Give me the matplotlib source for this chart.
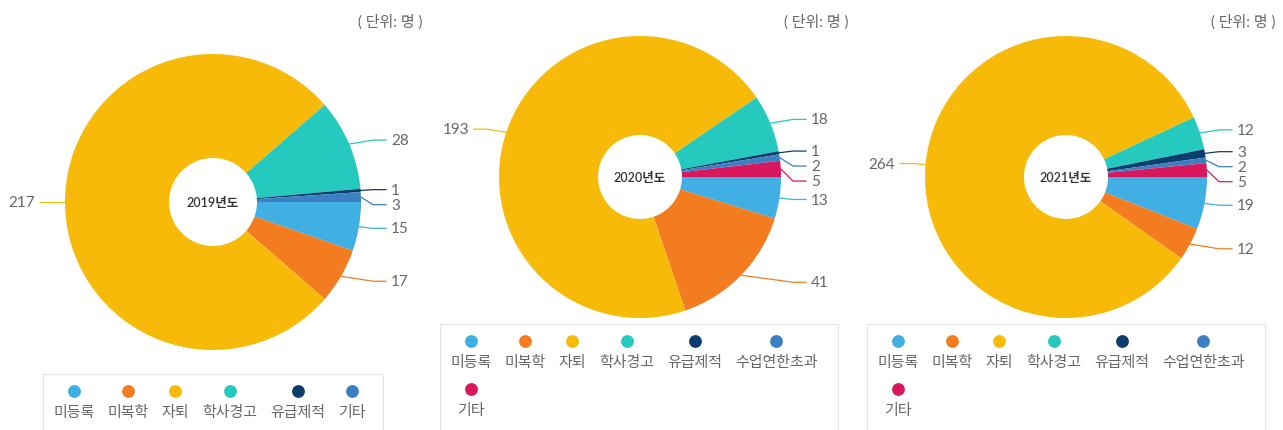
import matplotlib.pyplot as plt
import numpy as np
from matplotlib.patches import Rectangle

plt.rcParams['font.family'] = ['Lato', 'Noto Sans CJK KR', 'DejaVu Sans']

W, H = 1283, 431

# data
categories_2019 = ['미등록', '미복학', '자퇴', '학사경고', '유급제적', '기타']
values_2019 = [15, 17, 217, 28, 1, 3]
colors_2019 = ['#3fafe4', '#f47c20', '#f8ba08', '#25c9bd', '#0d3d6c', '#3a80c3']

categories_2020 = ['미등록', '미복학', '자퇴', '학사경고', '유급제적', '수업연한초과', '기타']
values_2020 = [13, 41, 193, 18, 1, 2, 5]
colors_2020 = ['#3fafe4', '#f47c20', '#f8ba08', '#25c9bd', '#0d3d6c', '#3a80c3', '#d8175d']

categories_2021 = categories_2020
values_2021 = [19, 12, 264, 12, 3, 2, 5]
colors_2021 = colors_2020

years = ['2019년도', '2020년도', '2021년도']
unit_text = '( 단위: 명 )'

# layout in pixels (y measured from top)
panels = [
    dict(year=years[0], cats=categories_2019, vals=values_2019, cols=colors_2019,
         cx=213, cy=203, r=148, hole=44, box=(43, 383, 375), right=422),
    dict(year=years[1], cats=categories_2020, vals=values_2020, cols=colors_2020,
         cx=640, cy=178, r=141, hole=42, box=(440, 838, 325), right=848),
    dict(year=years[2], cats=categories_2021, vals=values_2021, cols=colors_2021,
         cx=1066, cy=178, r=141, hole=42, box=(867, 1265, 325), right=1275),
]

fig = plt.figure(figsize=(W / 100, H / 100), dpi=100)
ax = fig.add_axes([0, 0, 1, 1])

label_color = '#666666'

for p in panels:
    cx, cy, r = p['cx'], H - p['cy'], p['r']
    wedges, _ = ax.pie(p['vals'], colors=p['cols'], startangle=0, counterclock=False,
                       center=(cx, cy), radius=r,
                       wedgeprops=dict(width=r - p['hole'], linewidth=0))

    # data labels with connectors
    right, left = [], []
    for w, v, c in zip(wedges, p['vals'], p['cols']):
        a = np.radians((w.theta1 + w.theta2) / 2)
        ex, ey = cx + r * np.cos(a), cy + r * np.sin(a)
        ly = cy + (r + 10) * np.sin(a)
        (right if np.cos(a) >= 0 else left).append([ly, ex, ey, v, c])
    right.sort(key=lambda t: -t[0])
    for i in range(1, len(right)):
        if right[i][0] > right[i - 1][0] - 15:
            right[i][0] = right[i - 1][0] - 15
    left.sort(key=lambda t: -t[0])
    for i in range(1, len(left)):
        if left[i][0] > left[i - 1][0] - 15:
            left[i][0] = left[i - 1][0] - 15
    for ly, ex, ey, v, c in right:
        lx = cx + r + 30
        ax.plot([ex, lx - 18, lx - 5], [ey, ly, ly], color=c, lw=0.9)
        ax.text(lx, ly, str(v), ha='left', va='center', fontsize=11, color=label_color)
    for ly, ex, ey, v, c in left:
        lx = cx - r - 30
        ax.plot([ex, lx + 18, lx + 5], [ey, ly, ly], color=c, lw=0.9)
        ax.text(lx, ly, str(v), ha='right', va='center', fontsize=11, color=label_color)

    ax.text(cx, cy, p['year'], ha='center', va='center', fontsize=9,
            fontweight='semibold', color='#333333')
    ax.text(p['right'], H - 22, unit_text, ha='right', va='center', fontsize=10.8,
            color='#666666')

    # legend
    bl, br, bt = p['box']
    ax.add_patch(Rectangle((bl, -5), br - bl, H - bt + 5, fill=False,
                           edgecolor='#e3e3e3', lw=0.8))
    texts = [ax.text(0, 0, c, ha='center', va='center', fontsize=10.8, color=label_color)
             for c in p['cats']]
    fig.canvas.draw()
    rend = fig.canvas.get_renderer()
    widths = [t.get_window_extent(rend).width for t in texts]
    x = bl + 10
    row, col = 0, 0
    centers = []
    for t, wdt, c in zip(texts, widths, p['cols']):
        if row == 0 and x + wdt > br - 10:
            row, col = 1, 0
        if row == 0:
            xc = x + wdt / 2
            centers.append(xc)
            x += wdt + 13
        else:
            xc = centers[col]
            col += 1
        my = H - (bt + 17 + row * 48)
        ty = H - (bt + 38 + row * 48)
        ax.scatter([xc], [my], s=85, color=c, linewidths=0, zorder=3)
        t.set_position((xc, ty))

ax.set_xlim(0, W)
ax.set_ylim(0, H)
ax.set_aspect('auto')
ax.axis('off')

fig.savefig('out.png', dpi=100, facecolor='white')
